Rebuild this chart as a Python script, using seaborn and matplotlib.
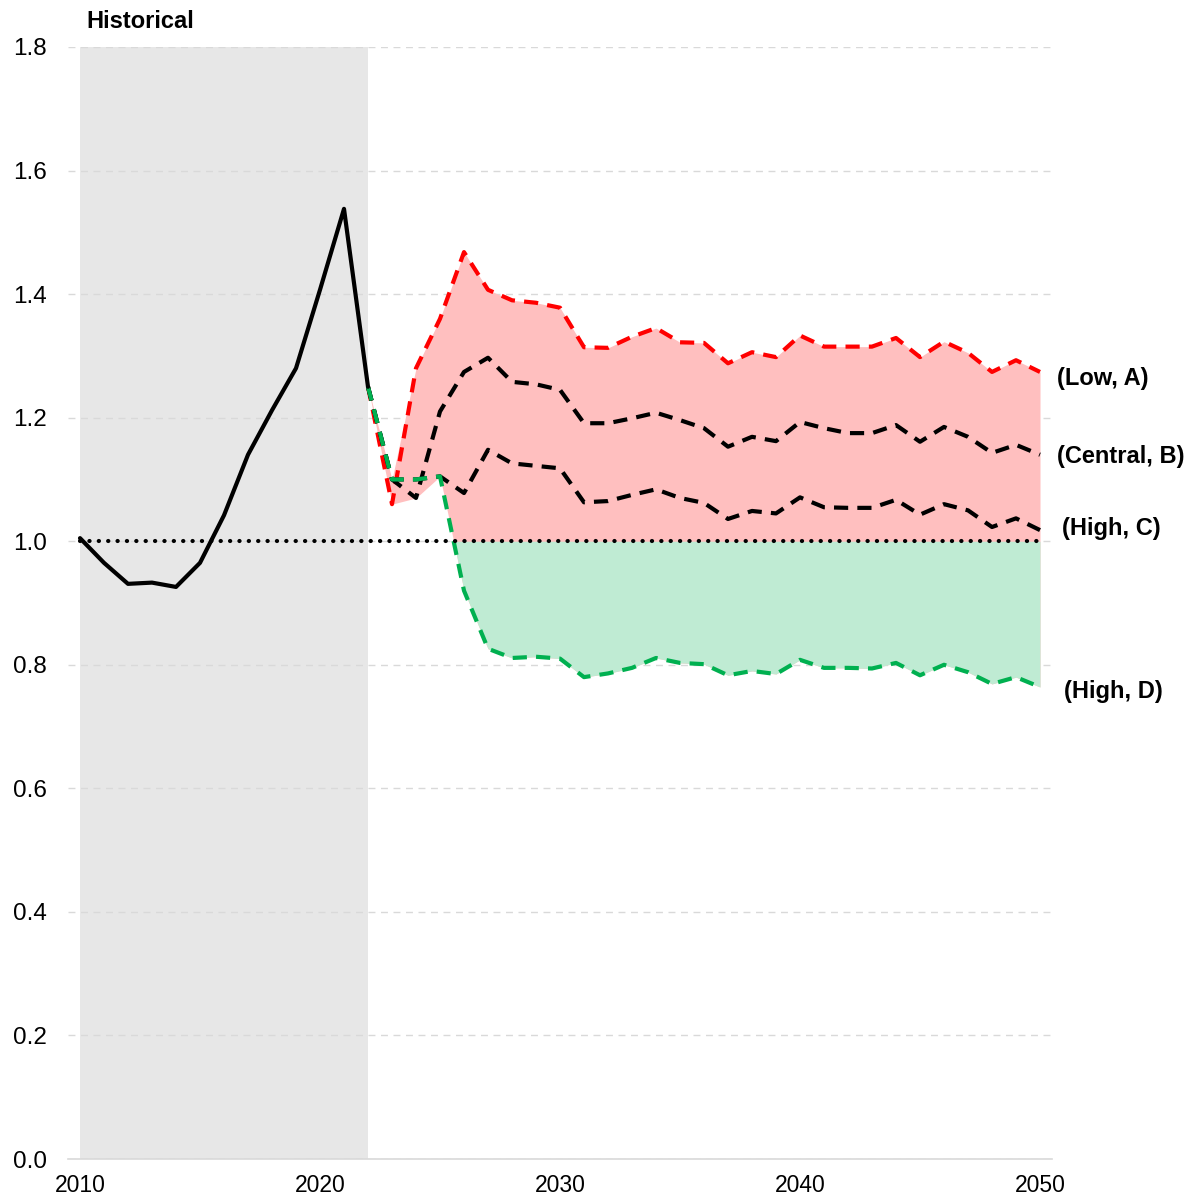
import numpy as np
import pandas as pd
import matplotlib
matplotlib.use("Agg")
import matplotlib.pyplot as plt
import seaborn as sns

# historical series
hist_years = list(range(2010, 2023))
hist_vals = [1.005, 0.965, 0.931, 0.933, 0.926, 0.965, 1.042, 1.14, 1.212, 1.28, 1.407, 1.538, 1.25]

# projections 2022-2050
proj_years = list(range(2022, 2051))
low_a = [1.25, 1.06, 1.28, 1.36, 1.468, 1.407, 1.39, 1.386, 1.378, 1.314, 1.313, 1.331, 1.345, 1.322, 1.321,
         1.288, 1.306, 1.298, 1.333, 1.315, 1.315, 1.315, 1.329, 1.298, 1.323, 1.305, 1.274, 1.293, 1.274]
central_b = [1.25, 1.10, 1.07, 1.21, 1.274, 1.297, 1.258, 1.254, 1.245, 1.191, 1.191, 1.199, 1.208, 1.196, 1.183,
             1.153, 1.169, 1.162, 1.193, 1.183, 1.175, 1.175, 1.188, 1.161, 1.185, 1.169, 1.143, 1.156, 1.14]
high_c = [1.25, 1.10, 1.10, 1.105, 1.078, 1.148, 1.126, 1.122, 1.118, 1.063, 1.065, 1.075, 1.084, 1.07, 1.062,
          1.036, 1.049, 1.045, 1.071, 1.055, 1.054, 1.054, 1.067, 1.043, 1.06, 1.05, 1.023, 1.037, 1.018]
high_d = [1.25, 1.10, 1.10, 1.105, 0.92, 0.826, 0.811, 0.813, 0.81, 0.78, 0.786, 0.795, 0.811, 0.803, 0.801,
          0.783, 0.79, 0.785, 0.808, 0.795, 0.795, 0.794, 0.803, 0.783, 0.8, 0.788, 0.769, 0.78, 0.764]

labels = ["(Low, A)", "(Central, B)", "(High, C)", "(High, D)"]
x_labels = [2010, 2020, 2030, 2040, 2050]

sns.set_style("white")
plt.rcParams['font.family'] = ['Liberation Sans', 'DejaVu Sans']
plt.rcParams['text.color'] = 'black'

fig = plt.figure(figsize=(11.96, 12), dpi=100)
ax = fig.add_axes([68 / 1196, 41 / 1200, 984 / 1196, 1112 / 1200])

ax.axvspan(2010, 2022, color='#E7E7E7', zorder=0, lw=0)

df = pd.DataFrame({'year': proj_years, 'A': low_a, 'B': central_b, 'C': high_c, 'D': high_d})
upper = df[['A', 'B', 'C', 'D']].max(axis=1).values
lower = df[['A', 'B', 'C', 'D']].min(axis=1).values
ax.fill_between(df['year'], lower, upper, color='#FFBFBF', lw=0, zorder=1)
ax.fill_between(df['year'], lower, 1.0, where=lower < 1.0, interpolate=True, color='#BFEBD3', lw=0, zorder=1.1)

dash = (0, (3.4, 2.2))
lw = 3.0
sns.lineplot(data=df, x='year', y='A', ax=ax, color='#FF0000', lw=lw, linestyle=dash, zorder=3)
sns.lineplot(data=df, x='year', y='B', ax=ax, color='black', lw=lw, linestyle=dash, zorder=3)
sns.lineplot(data=df, x='year', y='C', ax=ax, color='black', lw=lw, linestyle=dash, zorder=3)
sns.lineplot(data=df, x='year', y='D', ax=ax, color='#00B050', lw=lw, linestyle=dash, zorder=4)
sns.lineplot(x=hist_years, y=hist_vals, ax=ax, color='black', lw=lw, zorder=5)

ax.plot([2010, 2050], [1.0, 1.0], color='black', lw=3.0, linestyle=(0, (0.05, 2.2)),
        dash_capstyle='round', zorder=6)

ax.set_xlim(2009.5, 2050.5)
ax.set_ylim(0, 1.8)
ax.set_yticks(np.arange(0, 1.81, 0.2))
ax.set_yticklabels([f"{v:.1f}" for v in np.arange(0, 1.81, 0.2)])
ax.set_xticks(x_labels)
ax.set_xticklabels([str(v) for v in x_labels])
ax.set_xticks(np.arange(2009.5, 2051, 1), minor=True)
ax.tick_params(axis='y', length=0, pad=15, labelsize=17.5, labelcolor='black')
ax.tick_params(axis='x', which='major', length=0, pad=11, labelsize=16.5, labelcolor='black')
ax.tick_params(axis='x', which='minor', length=7, width=1, color='#D9D9D9', direction='out')
ax.set_xlabel('')
ax.set_ylabel('')

ax.yaxis.grid(True, color='#D9D9D9', linestyle=(0, (5, 4)), lw=1)
ax.set_axisbelow(True)
for s in ['top', 'right', 'left']:
    ax.spines[s].set_visible(False)
ax.spines['bottom'].set_color('#D9D9D9')
ax.spines['bottom'].set_linewidth(1.2)

label_pos = [(2050.7, 1.263), (2050.7, 1.137), (2050.9, 1.02), (2051.0, 0.756)]
for txt, (lx, ly) in zip(labels, label_pos):
    ax.text(lx, ly, txt, fontsize=17, fontweight='bold', ha='left', va='center', clip_on=False, color='black')

fig.text(86 / 1196, 1 - 21 / 1200, "Historical", fontsize=17, fontweight='bold', ha='left', va='center',
         color='black')

fig.savefig("out.png", dpi=100)
